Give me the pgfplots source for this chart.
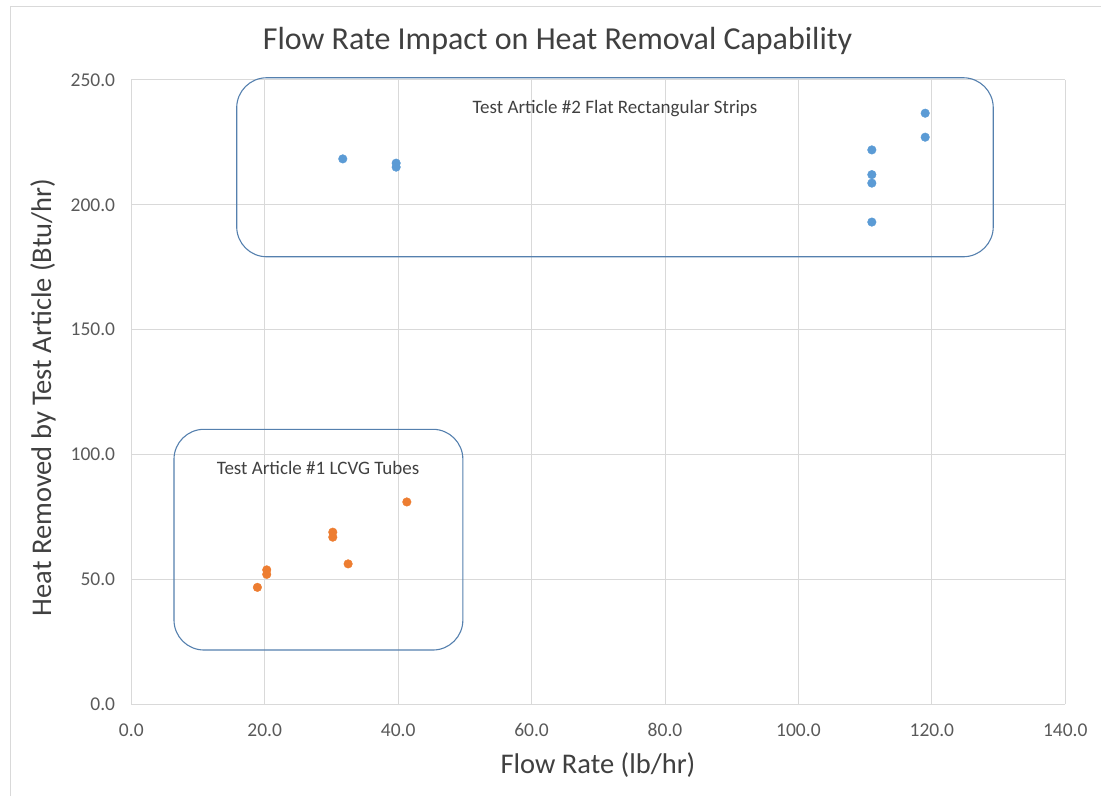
\documentclass[border=0pt]{standalone}
\usepackage{pgfplots}
\pgfplotsset{compat=1.18}
\usepackage{fontspec}
\setmainfont{Carlito}
\definecolor{ptblue}{HTML}{5B9BD5}
\definecolor{ptorange}{HTML}{ED7D31}
\definecolor{boxcol}{HTML}{5580AE}
\definecolor{gridcol}{HTML}{D9D9D9}
\definecolor{txtcol}{HTML}{595959}
\definecolor{ttlcol}{HTML}{404040}
\begin{document}
\begin{tikzpicture}[x=1pt,y=1pt]
\useasboundingbox (0,0) rectangle (1101,796);
\draw[gridcol, line width=1pt] (10,0) -- (10,789) -- (1101,789);
\begin{axis}[
  at={(131.3pt,91.8pt)}, anchor=south west,
  scale only axis, width=934pt, height=624.2pt,
  xmin=0, xmax=140, ymin=0, ymax=250,
  xtick={0,20,...,140}, ytick={0,50,...,250},
  grid=major, major grid style={gridcol, line width=1pt},
  axis line style={draw=none},
  axis x line*=bottom,
  x axis line style={draw=gridcol, line width=1pt},
  axis y line*=left,
  y axis line style={draw=none},
  tick style={draw=none}, major tick length=0pt,
  /pgf/number format/assume math mode=true,
  /pgf/number format/fixed, /pgf/number format/fixed zerofill,
  /pgf/number format/precision=1,
  ticklabel style={font=\fontsize{19.5}{22}\selectfont, text=txtcol},
  yticklabel style={anchor=east, inner sep=0pt, xshift=-16pt},
  xticklabel style={anchor=center, inner sep=0pt, yshift=-26pt},
  clip=false,
]
\draw[boxcol, line width=1.1pt, rounded corners=30pt] (axis cs:15.8,179.2) rectangle (axis cs:129.2,250.9);
\draw[boxcol, line width=1.1pt, rounded corners=30pt] (axis cs:6.4,21.7) rectangle (axis cs:49.7,110.1);
\addplot[only marks, mark=*, mark size=4.3pt, mark options={draw=ptblue, fill=ptblue}] coordinates {
(31.7,218.4) (39.7,216.7) (39.7,215.1)
(111.0,222.0) (111.0,212.1) (111.0,208.7) (111.0,193.1)
(119.0,236.7) (119.0,227.1)
};
\addplot[only marks, mark=*, mark size=4.3pt, mark options={draw=ptorange, fill=ptorange}] coordinates {
(18.9,46.8) (20.3,52.0) (20.3,53.8) (30.2,66.9) (30.2,68.9) (32.5,56.2) (41.3,81.0)
};
\node[font=\fontsize{19}{22}\selectfont, text=ttlcol] at (axis cs:72.5,238.5) {Test Article \#2 Flat Rectangular Strips};
\node[font=\fontsize{19}{22}\selectfont, text=ttlcol] at (axis cs:28.0,94.6) {Test Article \#1 LCVG Tubes};
\end{axis}
\node[font=\fontsize{32}{38}\selectfont, text=ttlcol] at (557.5,755) {Flow Rate Impact on Heat Removal Capability};
\node[font=\fontsize{28.5}{34}\selectfont, text=ttlcol] at (598,31) {Flow Rate (lb/hr)};
\node[font=\fontsize{28.5}{34}\selectfont, text=ttlcol, rotate=90] at (43,398.5) {Heat Removed by Test Article (Btu/hr)};
\end{tikzpicture}
\end{document}
